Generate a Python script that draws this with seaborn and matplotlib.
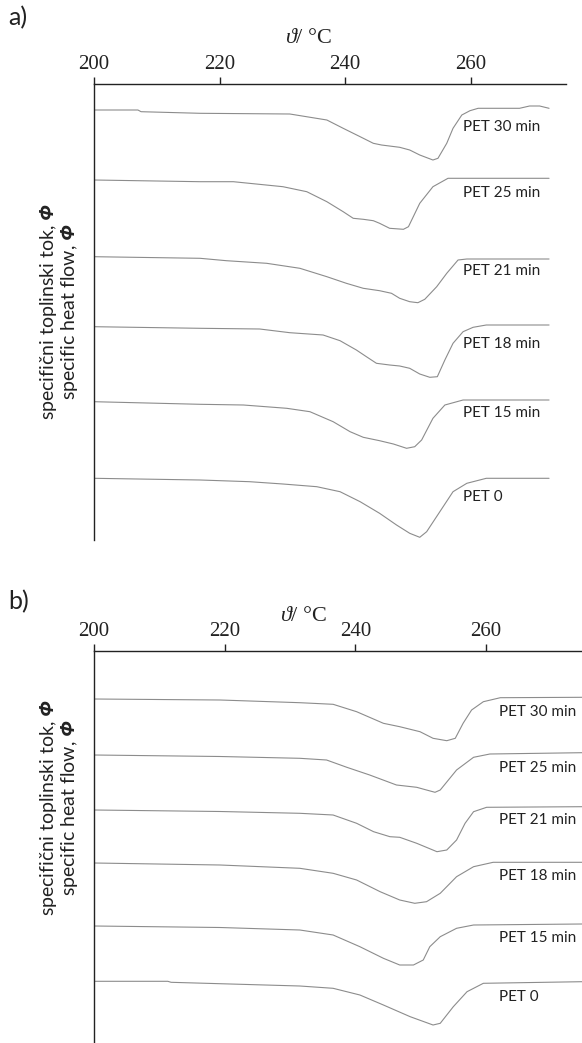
import pandas as pd
import seaborn as sns
import matplotlib.pyplot as plt

# panel a) - temperatures (°C) and heat flow (arbitrary units, stacked)
samples = ["PET 30 min", "PET 25 min", "PET 21 min", "PET 18 min", "PET 15 min", "PET 0"]

a_t30 = [200, 207.0, 207.5, 216.9, 231.2, 237.1, 239.7, 242.4, 244.5, 245.8, 248.7, 250.3,
         251.9, 254.0, 254.8, 256.2, 257.2, 258.6, 259.9, 261.2, 267.8, 269.4, 271.0, 272.5]
a_v30 = [43.0, 43.0, 42.83, 42.67, 42.6, 42.0, 41.17, 40.33, 39.67, 39.5, 39.27, 39.0,
         38.5, 38.0, 38.17, 39.67, 41.17, 42.5, 42.93, 43.17, 43.17, 43.4, 43.4, 43.17]
a_t25 = [200, 216.9, 222.2, 230.1, 233.9, 237.1, 239.7, 241.3, 242.9, 244.5, 245.5, 247.1,
         249.3, 250.1, 251.9, 254.0, 256.4, 272.5]
a_v25 = [36.0, 35.83, 35.83, 35.33, 34.83, 33.83, 32.83, 32.17, 32.07, 31.93, 31.67, 31.17,
         31.07, 31.33, 33.67, 35.33, 36.17, 36.17]
a_t21 = [200, 216.9, 221.1, 227.5, 232.8, 237.1, 240.2, 242.9, 245.5, 247.4, 248.7, 250.3,
         251.6, 252.7, 254.6, 256.2, 258.0, 259.4, 272.5]
a_v21 = [28.33, 28.17, 27.93, 27.67, 27.17, 26.33, 25.67, 25.17, 24.93, 24.67, 24.17, 23.83,
         23.73, 24.07, 25.33, 26.67, 28.0, 28.1, 28.1]
a_t18 = [200, 216.9, 226.4, 231.2, 236.5, 239.2, 241.8, 243.4, 245.0, 247.1, 248.7, 250.3,
         251.9, 253.5, 254.7, 255.9, 257.2, 258.8, 260.4, 262.5, 272.5]
a_v18 = [21.33, 21.17, 21.1, 20.73, 20.5, 19.93, 19.0, 18.33, 17.67, 17.5, 17.4, 17.17,
         16.6, 16.27, 16.33, 18.0, 19.67, 20.83, 21.27, 21.5, 21.5]
a_t15 = [200, 216.9, 223.8, 230.7, 234.4, 238.1, 240.8, 242.9, 245.5, 247.7, 249.8, 251.1,
         252.2, 254.0, 255.9, 258.8, 272.5]
a_v15 = [13.83, 13.57, 13.5, 13.17, 12.83, 11.83, 10.83, 10.27, 9.93, 9.6, 9.17, 9.33,
         10.0, 12.17, 13.5, 14.0, 14.0]
a_t0 = [200, 216.9, 224.8, 230.1, 235.5, 239.2, 242.4, 245.5, 248.2, 250.3, 251.9, 253.0,
        255.1, 257.2, 259.4, 262.5, 272.5]
a_v0 = [6.17, 6.0, 5.83, 5.6, 5.33, 4.83, 3.83, 2.67, 1.5, 0.67, 0.27, 0.83,
        2.83, 4.83, 5.67, 6.17, 6.17]

# panel b)
b_t30 = [200, 219.3, 231.5, 236.6, 240.2, 244.3, 246.8, 249.9, 251.9, 254.0, 255.3, 256.5,
         257.8, 259.6, 262.2, 274.7]
b_v30 = [34.4, 34.3, 34.03, 33.87, 33.13, 31.97, 31.63, 31.13, 30.47, 30.23, 30.47, 31.97,
         33.3, 34.13, 34.53, 34.57]
b_t25 = [200, 219.3, 231.5, 235.6, 238.7, 242.2, 246.3, 249.4, 250.9, 252.2, 253.0, 255.5,
         258.1, 260.6, 274.7]
b_v25 = [28.8, 28.65, 28.47, 28.3, 27.57, 26.8, 25.8, 25.57, 25.3, 25.07, 25.3, 27.3,
         28.57, 28.9, 29.03]
b_t21 = [200, 219.3, 231.5, 236.6, 240.2, 242.8, 245.3, 246.8, 249.4, 252.5, 254.0, 255.5,
         256.8, 258.1, 260.1, 274.7]
b_v21 = [23.3, 23.15, 22.97, 22.8, 21.97, 21.13, 20.63, 20.57, 19.97, 19.13, 19.3, 20.3,
         21.97, 23.13, 23.57, 23.63]
b_t18 = [200, 219.3, 231.5, 236.6, 240.2, 243.8, 246.8, 249.1, 250.9, 253.0, 255.5, 258.1,
         261.1, 274.7]
b_v18 = [18.0, 17.8, 17.47, 16.97, 16.3, 15.13, 14.3, 13.97, 14.13, 14.97, 16.63, 17.63,
         18.07, 18.07]
b_t15 = [200, 219.3, 231.5, 236.6, 240.7, 244.3, 246.8, 248.9, 250.4, 251.4, 253.0, 255.5,
         258.1, 274.7]
b_v15 = [11.7, 11.55, 11.3, 10.8, 9.63, 8.47, 7.8, 7.8, 8.3, 9.63, 10.63, 11.47,
         11.8, 11.9]
b_t0 = [200, 211.3, 211.8, 231.5, 236.6, 240.7, 244.3, 248.4, 251.9, 253.0, 255.0, 257.1,
        259.6, 274.7]
b_v0 = [6.17, 6.17, 6.07, 5.7, 5.47, 4.8, 3.8, 2.63, 1.8, 1.97, 3.63, 5.13,
        5.97, 6.13]

# where the sample names sit
a_label_t = 258.8
a_label_v = [41.33, 34.67, 26.9, 19.6, 12.73, 4.27]
b_label_t = 262.0
b_label_v = [33.13, 27.5, 22.3, 16.7, 10.5, 4.63]

x_ticks = [200, 220, 240, 260]
INK = "#222222"


def make_frame(names, temps, vals):
    rows = []
    for name, t, v in zip(names, temps, vals):
        rows.append(pd.DataFrame({"T": t, "phi": v, "sample": name}))
    return pd.concat(rows, ignore_index=True)


def draw_panel(ax, df, lab_t, lab_v, xlim, ylim):
    sns.lineplot(data=df, x="T", y="phi", units="sample", estimator=None,
                 color="#8c8c8c", linewidth=0.8, ax=ax)
    ax.set_xlim(*xlim)
    ax.set_ylim(*ylim)
    ax.xaxis.tick_top()
    ax.xaxis.set_label_position("top")
    ax.set_xticks(x_ticks)
    ax.set_xticklabels([str(t) for t in x_ticks], fontfamily="Liberation Serif", fontsize=15)
    ax.tick_params(axis="x", direction="out", length=5, width=1, pad=2, colors=INK)
    ax.set_yticks([])
    for s in ["right", "bottom"]:
        ax.spines[s].set_visible(False)
    for s in ["top", "left"]:
        ax.spines[s].set_color(INK)
        ax.spines[s].set_linewidth(1.0)
    ax.set_xlabel(r"$\mathit{\vartheta}$/ °C", fontfamily="Liberation Serif", fontsize=16,
                  labelpad=0, color=INK)
    ax.set_ylabel("specifični toplinski tok, $\\mathbf{\\Phi}$\nspecific heat flow, $\\mathbf{\\Phi}$",
                  fontfamily="Lato", fontsize=14, color=INK, linespacing=1.0)
    for name, v in zip(samples, lab_v):
        ax.text(lab_t, v, name, ha="left", va="center", fontfamily="Lato",
                fontsize=11, color=INK)


sns.set_theme(style="white")
plt.rcParams["mathtext.fontset"] = "custom"
plt.rcParams["mathtext.rm"] = "Liberation Serif"
plt.rcParams["mathtext.it"] = "Liberation Serif:italic"
plt.rcParams["mathtext.bf"] = "Open Sans:italic:bold"
plt.rcParams["font.family"] = ["Lato", "DejaVu Sans"]

W, H = 582, 1043
fig = plt.figure(figsize=(W / 100, H / 100), dpi=100)

ax_a = fig.add_axes([94 / W, 1 - 540 / H, 472 / W, 456 / H])
ax_b = fig.add_axes([94 / W, 0, 488 / W, 392 / H])

df_a = make_frame(samples, [a_t30, a_t25, a_t21, a_t18, a_t15, a_t0],
                  [a_v30, a_v25, a_v21, a_v18, a_v15, a_v0])
df_b = make_frame(samples, [b_t30, b_t25, b_t21, b_t18, b_t15, b_t0],
                  [b_v30, b_v25, b_v21, b_v18, b_v15, b_v0])

draw_panel(ax_a, df_a, a_label_t, a_label_v, (200, 275.2), (0, 45.6))
draw_panel(ax_b, df_b, b_label_t, b_label_v, (200, 274.7), (0, 39.2))

ax_a.xaxis.set_label_coords(0.455, 1.09)
ax_b.xaxis.set_label_coords(0.43, 1.077)
ax_a.yaxis.set_label_coords(-0.03, 0.5)
ax_b.yaxis.set_label_coords(-0.029, 0.6)

fig.text(8 / W, 1 - 18 / H, "a)", fontsize=18, va="center", ha="left", color=INK)
fig.text(8 / W, 1 - 602 / H, "b)", fontsize=18, va="center", ha="left", color=INK)

fig.savefig("out.png", dpi=100, facecolor="white")
